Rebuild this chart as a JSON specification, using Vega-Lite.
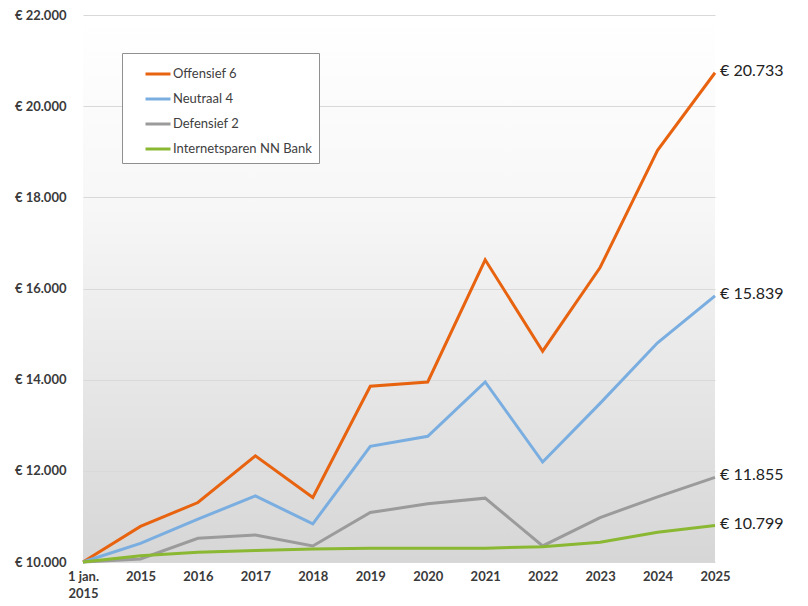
{
  "$schema": "https://vega.github.io/schema/vega-lite/v6.json",
  "width": 632,
  "height": 547,
  "autosize": "none",
  "padding": {"left": 83, "top": 15, "right": 93, "bottom": 44},
  "background": "white",
  "view": {
    "stroke": null,
    "fill": {"gradient": "linear", "x1": 0, "y1": 0, "x2": 0, "y2": 1,
      "stops": [{"offset": 0, "color": "#ffffff"}, {"offset": 0.35, "color": "#f7f7f7"}, {"offset": 1, "color": "#d6d6d6"}]}
  },
  "config": {
    "font": "Lato",
    "locale": {"number": {"decimal": ",", "thousands": ".", "grouping": [3], "currency": ["€ ", ""]}}
  },
  "data": {
    "values": [
      {"jaar": "1 jan. 2015", "serie": "Offensief 6", "waarde": 10000},
      {"jaar": "2015", "serie": "Offensief 6", "waarde": 10780},
      {"jaar": "2016", "serie": "Offensief 6", "waarde": 11305},
      {"jaar": "2017", "serie": "Offensief 6", "waarde": 12330},
      {"jaar": "2018", "serie": "Offensief 6", "waarde": 11415},
      {"jaar": "2019", "serie": "Offensief 6", "waarde": 13855},
      {"jaar": "2020", "serie": "Offensief 6", "waarde": 13950},
      {"jaar": "2021", "serie": "Offensief 6", "waarde": 16630},
      {"jaar": "2022", "serie": "Offensief 6", "waarde": 14625},
      {"jaar": "2023", "serie": "Offensief 6", "waarde": 16460},
      {"jaar": "2024", "serie": "Offensief 6", "waarde": 19030},
      {"jaar": "2025", "serie": "Offensief 6", "waarde": 20733},
      {"jaar": "1 jan. 2015", "serie": "Neutraal 4", "waarde": 10000},
      {"jaar": "2015", "serie": "Neutraal 4", "waarde": 10410},
      {"jaar": "2016", "serie": "Neutraal 4", "waarde": 10940},
      {"jaar": "2017", "serie": "Neutraal 4", "waarde": 11450},
      {"jaar": "2018", "serie": "Neutraal 4", "waarde": 10836},
      {"jaar": "2019", "serie": "Neutraal 4", "waarde": 12537},
      {"jaar": "2020", "serie": "Neutraal 4", "waarde": 12757},
      {"jaar": "2021", "serie": "Neutraal 4", "waarde": 13950},
      {"jaar": "2022", "serie": "Neutraal 4", "waarde": 12193},
      {"jaar": "2023", "serie": "Neutraal 4", "waarde": 13480},
      {"jaar": "2024", "serie": "Neutraal 4", "waarde": 14810},
      {"jaar": "2025", "serie": "Neutraal 4", "waarde": 15839},
      {"jaar": "1 jan. 2015", "serie": "Defensief 2", "waarde": 10000},
      {"jaar": "2015", "serie": "Defensief 2", "waarde": 10066},
      {"jaar": "2016", "serie": "Defensief 2", "waarde": 10521},
      {"jaar": "2017", "serie": "Defensief 2", "waarde": 10594},
      {"jaar": "2018", "serie": "Defensief 2", "waarde": 10352},
      {"jaar": "2019", "serie": "Defensief 2", "waarde": 11085},
      {"jaar": "2020", "serie": "Defensief 2", "waarde": 11276},
      {"jaar": "2021", "serie": "Defensief 2", "waarde": 11401},
      {"jaar": "2022", "serie": "Defensief 2", "waarde": 10352},
      {"jaar": "2023", "serie": "Defensief 2", "waarde": 10975},
      {"jaar": "2024", "serie": "Defensief 2", "waarde": 11430},
      {"jaar": "2025", "serie": "Defensief 2", "waarde": 11855},
      {"jaar": "1 jan. 2015", "serie": "Internetsparen NN Bank", "waarde": 10000},
      {"jaar": "2015", "serie": "Internetsparen NN Bank", "waarde": 10135},
      {"jaar": "2016", "serie": "Internetsparen NN Bank", "waarde": 10213},
      {"jaar": "2017", "serie": "Internetsparen NN Bank", "waarde": 10250},
      {"jaar": "2018", "serie": "Internetsparen NN Bank", "waarde": 10286},
      {"jaar": "2019", "serie": "Internetsparen NN Bank", "waarde": 10300},
      {"jaar": "2020", "serie": "Internetsparen NN Bank", "waarde": 10300},
      {"jaar": "2021", "serie": "Internetsparen NN Bank", "waarde": 10303},
      {"jaar": "2022", "serie": "Internetsparen NN Bank", "waarde": 10337},
      {"jaar": "2023", "serie": "Internetsparen NN Bank", "waarde": 10433},
      {"jaar": "2024", "serie": "Internetsparen NN Bank", "waarde": 10653},
      {"jaar": "2025", "serie": "Internetsparen NN Bank", "waarde": 10799}
    ]
  },
  "encoding": {
    "x": {
      "field": "jaar", "type": "ordinal",
      "sort": ["1 jan. 2015", "2015", "2016", "2017", "2018", "2019", "2020", "2021", "2022", "2023", "2024", "2025"],
      "scale": {"type": "point", "padding": 0},
      "axis": {
        "title": null, "labelAngle": 0, "grid": false, "ticks": false, "domain": false,
        "labelFontWeight": "bold", "labelFontSize": 13, "labelColor": "#3a3a3a", "labelPadding": 8,
        "labelExpr": "datum.value == '1 jan. 2015' ? ['1 jan.', '2015'] : datum.value",
        "labelLineHeight": 17
      }
    },
    "y": {
      "field": "waarde", "type": "quantitative",
      "scale": {"domain": [10000, 22000], "nice": false, "zero": false},
      "axis": {
        "title": null, "values": [10000, 12000, 14000, 16000, 18000, 20000, 22000],
        "format": "$,.0f", "domain": false, "ticks": false, "grid": true, "gridColor": "#d9d9d9",
        "labelFontWeight": "bold", "labelFontSize": 13, "labelColor": "#3a3a3a", "labelPadding": 17
      }
    }
  },
  "layer": [
    {
      "mark": {"type": "line", "strokeWidth": 3},
      "encoding": {
        "color": {
          "field": "serie", "type": "nominal",
          "scale": {
            "domain": ["Offensief 6", "Neutraal 4", "Defensief 2", "Internetsparen NN Bank"],
            "range": ["#e8630f", "#7aaee0", "#9b9b9b", "#8ab832"]
          },
          "legend": {
            "title": null, "orient": "none", "legendX": 39, "legendY": 38,
            "fillColor": "white", "strokeColor": "#909090", "padding": 7,
            "symbolType": "stroke", "symbolSize": 625, "symbolStrokeWidth": 3, "symbolOffset": 15,
            "labelFontSize": 13, "labelColor": "#404040", "labelOffset": 1, "rowPadding": 4
          }
        }
      }
    },
    {
      "transform": [{"filter": "datum.jaar == '2025'"}],
      "mark": {"type": "text", "align": "left", "baseline": "middle", "dx": 5, "dy": -2, "fontSize": 16, "color": "#222222"},
      "encoding": {
        "text": {"field": "waarde", "type": "quantitative", "format": "$,.0f"}
      }
    }
  ]
}
